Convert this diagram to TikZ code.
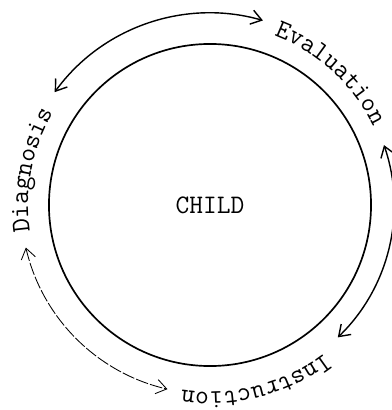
\documentclass[tikz,border=0pt]{standalone}
\usepackage{fontspec}
\usetikzlibrary{arrows.meta, decorations.text}
\newcommand{\phasefont}{\ttfamily\fontsize{19}{22}\selectfont}

\begin{document}
\begin{tikzpicture}[
    x=0.025cm, y=0.025cm,
    ring/.style={circle, draw, line width=1.2pt, minimum size=8.05cm, font=\phasefont},
    cyclearrow/.style={line width=1pt, {Straight Barb[length=2.6mm, width=3.6mm]}-{Straight Barb[length=2.6mm, width=3.6mm]}},
    faint/.style={cyclearrow, line width=0.6pt, dash pattern=on 9pt off 1.5pt},
    phase/.style={decorate, decoration={text along path, text align=center, text={|\phasefont|#1}}}
]
    \useasboundingbox (-210,-205) rectangle (182,205);

    % the child in the middle
    \node[ring] (child) at (0,0) {CHILD};

    % the three phases, written round the ring
    \path[phase=Evaluation] (85:181) arc[start angle=85, end angle=10, radius=181];
    \path[phase=Diagnosis] (200:182) arc[start angle=200, end angle=138, radius=182];
    \path[phase=Instruction] (-45:187) arc[start angle=-45, end angle=-106, radius=187];

    % ends of the arrows
    \coordinate (evalL) at (74:192);
    \coordinate (evalR) at (19:184);
    \coordinate (diagT) at (144:192);
    \coordinate (diagB) at (193:189);
    \coordinate (instR) at (-46:184);
    \coordinate (instL) at (257:189);

    % arrows between the phases
    \draw[cyclearrow] (evalL) arc[start angle=74, end angle=144, radius=192];
    \draw[cyclearrow] (evalR) arc[start angle=19, end angle=-46, radius=184];
    \draw[faint] (diagB) arc[start angle=193, end angle=257, radius=189];
\end{tikzpicture}
\end{document}
